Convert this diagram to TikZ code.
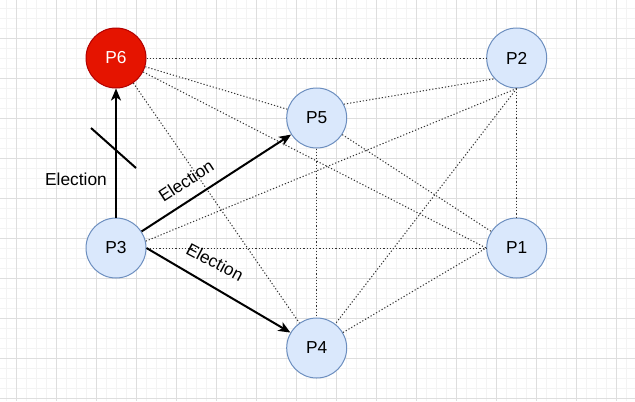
\documentclass[tikz,border=0pt]{standalone}
\usepackage{fontspec}
\setmainfont{Liberation Sans}
\usetikzlibrary{arrows.meta}
\definecolor{nodefill}{HTML}{DAE8FC}
\definecolor{nodedraw}{HTML}{6C8EBF}
\definecolor{redfill}{HTML}{E51400}
\definecolor{reddraw}{HTML}{B20000}
\definecolor{gridmajor}{HTML}{DEDEDE}
\definecolor{gridminor}{HTML}{F3F3F3}
\definecolor{dotcol}{HTML}{333333}
\begin{document}
\begin{tikzpicture}[x=0.75pt,y=-0.75pt,
  proc/.style={circle, draw=nodedraw, fill=nodefill, line width=0.75pt, minimum size=45pt, inner sep=0pt, font=\fontsize{13}{15}\selectfont},
  leader/.style={proc, draw=reddraw, fill=redfill, text=white},
  link/.style={draw=dotcol, line width=0.75pt, dash pattern=on 0.9pt off 1.5pt},
  msg/.style={draw=black, line width=1.5pt, -{Stealth[length=9pt,width=7.5pt,inset=2.5pt]}},
  lbl/.style={font=\fontsize{13}{15}\selectfont, inner sep=0pt},
  strike/.style={draw=black, line width=1.5pt},
  minorline/.style={draw=gridminor, line width=0.75pt},
  majorline/.style={draw=gridmajor, line width=0.75pt}]
\useasboundingbox (0,0) rectangle (635,401);
\fill[white] (0,0) rectangle (635,401);
% grid
\foreach \i in {0,...,63} \draw[minorline] ({6.7+10*\i},0) -- ({6.7+10*\i},401);
\foreach \i in {0,...,39} \draw[minorline] (0,{8.3+10*\i}) -- (635,{8.3+10*\i});
\foreach \i in {0,...,15} \draw[majorline] ({16.7+40*\i},0) -- ({16.7+40*\i},401);
\foreach \i in {0,...,9} \draw[majorline] (0,{38.3+40*\i}) -- (635,{38.3+40*\i});
% nodes
\node[leader] (P6) at (116,58) {P6};
\node[proc] (P2) at (516.7,58) {P2};
\node[proc] (P5) at (316.7,118) {P5};
\node[proc] (P3) at (116,248) {P3};
\node[proc] (P1) at (516.7,248) {P1};
\node[proc] (P4) at (316.7,348) {P4};
% dotted links
\draw[link] (P6.east) -- (P2.west);
\draw[link] (P6) -- (P5);
\draw[link] (P6) -- (P1.west);
\draw[link] (P6) -- (P4);
\draw[link] (P5.27) -- (P2.223);
\draw[link] (P5) -- (P1);
\draw[link] (P5.south) -- (P4.north);
\draw[link] (P3.13) -- (P2.south);
\draw[link] (P3.east) -- (P1.west);
\draw[link] (P2.south) -- (P1.north);
\draw[link] (P2.south) -- (P4);
\draw[link] (P4) -- (P1.west);
% election messages
\draw[msg] (P3.north) -- (P6.south);
\draw[msg] (P3) -- (P5);
\draw[msg] (P3.east) -- (P4);
% labels
\node[lbl] (L1) at (76,179) {Election};
\node[lbl, rotate=33] (L2) at (186,181) {Election};
\node[lbl, rotate=-28] (L3) at (215,262) {Election};
% strike-through mark
\coordinate (S1) at (91,128);
\coordinate (S2) at (136,168);
\draw[strike] (S1) -- (S2);
\end{tikzpicture}
\end{document}
